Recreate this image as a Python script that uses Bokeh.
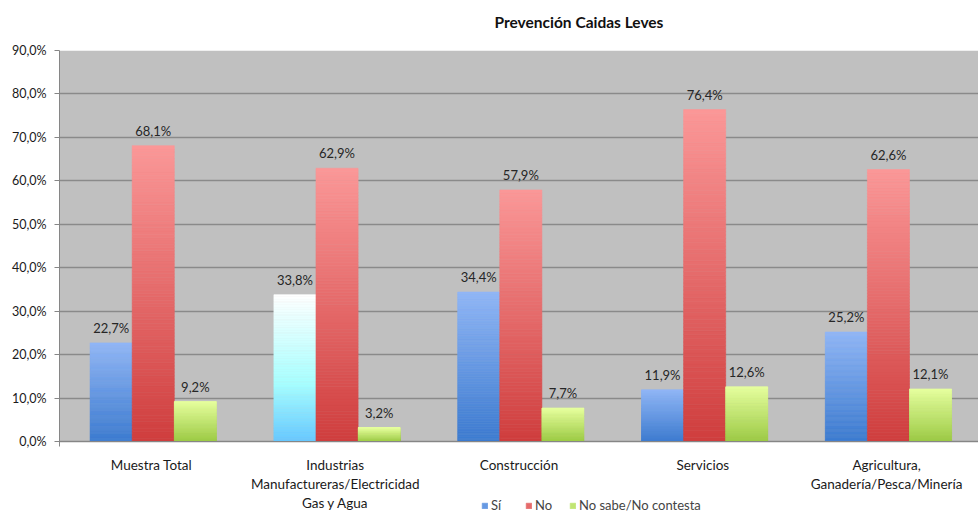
from bokeh.plotting import figure
from bokeh.models import (ColumnDataSource, FactorRange, FixedTicker, Legend, LegendItem,
                          Range1d, BoxAnnotation)
from bokeh.transform import dodge
from bokeh.core.properties import value
from bokeh.embed import file_html
from bokeh.resources import INLINE

categories = ["Muestra Total",
              "Industrias\nManufactureras/Electricidad\nGas y Agua",
              "Construcción",
              "Servicios",
              "Agricultura,\nGanadería/Pesca/Minería"]
series_names = ["Sí", "No", "No sabe/No contesta"]
si = [22.7, 33.8, 34.4, 11.9, 25.2]
no = [68.1, 62.9, 57.9, 76.4, 62.6]
ns = [9.2, 3.2, 7.7, 12.6, 12.1]
y_ticks = [0, 10, 20, 30, 40, 50, 60, 70, 80, 90]

FONT = "Lato"

def hx(c):
    c = c.lstrip("#")
    return tuple(int(c[i:i + 2], 16) for i in (0, 2, 4))

def interp(stops, t):
    for (p0, c0), (p1, c1) in zip(stops, stops[1:]):
        if p0 <= t <= p1:
            f = 0 if p1 == p0 else (t - p0) / (p1 - p0)
            a, b = hx(c0), hx(c1)
            return "#%02x%02x%02x" % tuple(int(round(a[k] + (b[k] - a[k]) * f)) for k in range(3))
    return stops[-1][1]

grad_si = [(0, "#3c7bd0"), (1, "#90b6f6")]
grad_si_alt = [(0, "#66c8ff"), (0.4, "#a8ffff"), (1, "#ffffff")]
grad_no = [(0, "#cf3d3d"), (1, "#fb9898")]
grad_ns = [(0, "#9cca44"), (1, "#e6ff9e")]

N = 90

# frame: top at 50px, value 0 at 441px, figure bottom at 513px
Y_TOP = 90
px_per_unit = (441 - 50) / Y_TOP
y_bottom = -(513 - 441) / px_per_unit

p = figure(x_range=FactorRange(*categories), y_range=Range1d(y_bottom, Y_TOP),
           width=978, height=513, output_backend="svg", toolbar_location=None,
           min_border_left=59, min_border_right=0, min_border_top=50, min_border_bottom=0)

p.border_fill_color = "white"
p.background_fill_color = "white"
p.outline_line_color = None
p.add_layout(BoxAnnotation(bottom=0, top=Y_TOP, fill_color="#c0c0c0", fill_alpha=1,
                           line_color=None, level="image"))

width = 0.229
offsets = [-width + 0.01, 0.01, width + 0.01]
series_vals = [si, no, ns]
series_grads = [grad_si, grad_no, grad_ns]

renderers = []
for s, (vals, grad, off) in enumerate(zip(series_vals, series_grads, offsets)):
    xs, bots, tops, cols = [], [], [], []
    for ci, (cat, v) in enumerate(zip(categories, vals)):
        g = grad_si_alt if (s == 0 and ci == 1) else grad
        for i in range(N):
            xs.append(cat)
            bots.append(v * i / N)
            tops.append(v * (i + 1) / N)
            cols.append(interp(g, (i + 0.5) / N))
    src = ColumnDataSource(dict(x=xs, bottom=bots, top=tops, color=cols))
    r = p.vbar(x=dodge("x", off, range=p.x_range), bottom="bottom", top="top", width=width,
               source=src, fill_color="color", line_color="color", line_width=0.6)
    renderers.append(r)

    lab_src = ColumnDataSource(dict(x=categories, y=vals,
                                    t=[("%.1f%%" % v).replace(".", ",") for v in vals]))
    p.text(x=dodge("x", off, range=p.x_range), y="y", text="t", source=lab_src,
           text_align="center", text_baseline="bottom", y_offset=-7,
           text_font=value(FONT), text_font_size="13px", text_color="#262626")

p.yaxis.ticker = FixedTicker(ticks=y_ticks)
p.yaxis.bounds = (-5 / px_per_unit, Y_TOP)
p.yaxis.major_label_overrides = {t: ("%.1f%%" % t).replace(".", ",") for t in y_ticks}
p.yaxis.major_label_text_font = FONT
p.yaxis.major_label_text_font_size = "12.5px"
p.yaxis.major_label_text_color = "#1a1a1a"
p.yaxis.axis_line_color = "#868686"
p.yaxis.major_tick_line_color = "#868686"
p.yaxis.major_tick_out = 5
p.yaxis.major_tick_in = 0
p.yaxis.minor_tick_line_color = None
p.yaxis.major_label_standoff = 8

p.xaxis.fixed_location = 0
p.xaxis.major_label_text_font = FONT
p.xaxis.major_label_text_font_size = "13.5px"
p.xaxis.major_label_text_color = "#1a1a1a"
p.xaxis.axis_line_color = "#868686"
p.xaxis.major_tick_line_color = None
p.xaxis.major_tick_out = 0
p.xaxis.major_tick_in = 0
p.xaxis.major_label_standoff = 15

p.xgrid.grid_line_color = None
p.ygrid.grid_line_color = "#8a8a8a"
p.ygrid.grid_line_width = 1.5

p.title.text = "Prevención Caidas Leves"
p.title.text_font = FONT
p.title.text_font_size = "15.5px"
p.title.text_font_style = "bold"
p.title.text_color = "#111111"
p.title.align = "left"
p.title.offset = 435
p.title.standoff = 0
p.title.padding = dict(left=0, right=0, top=0, bottom=20)

legend = Legend(items=[LegendItem(label=n, renderers=[r], index=N // 2)
                       for n, r in zip(series_names, renderers)],
                orientation="horizontal", location=(422, 0))
legend.glyph_width = 7
legend.glyph_height = 7
legend.label_text_font = FONT
legend.label_text_font_size = "13px"
legend.label_standoff = 3
legend.spacing = 14
legend.padding = 0
legend.margin = 0
legend.border_line_color = None
legend.background_fill_alpha = 0
p.add_layout(legend, "center")

open("out.html", "w").write(file_html(p, INLINE))
